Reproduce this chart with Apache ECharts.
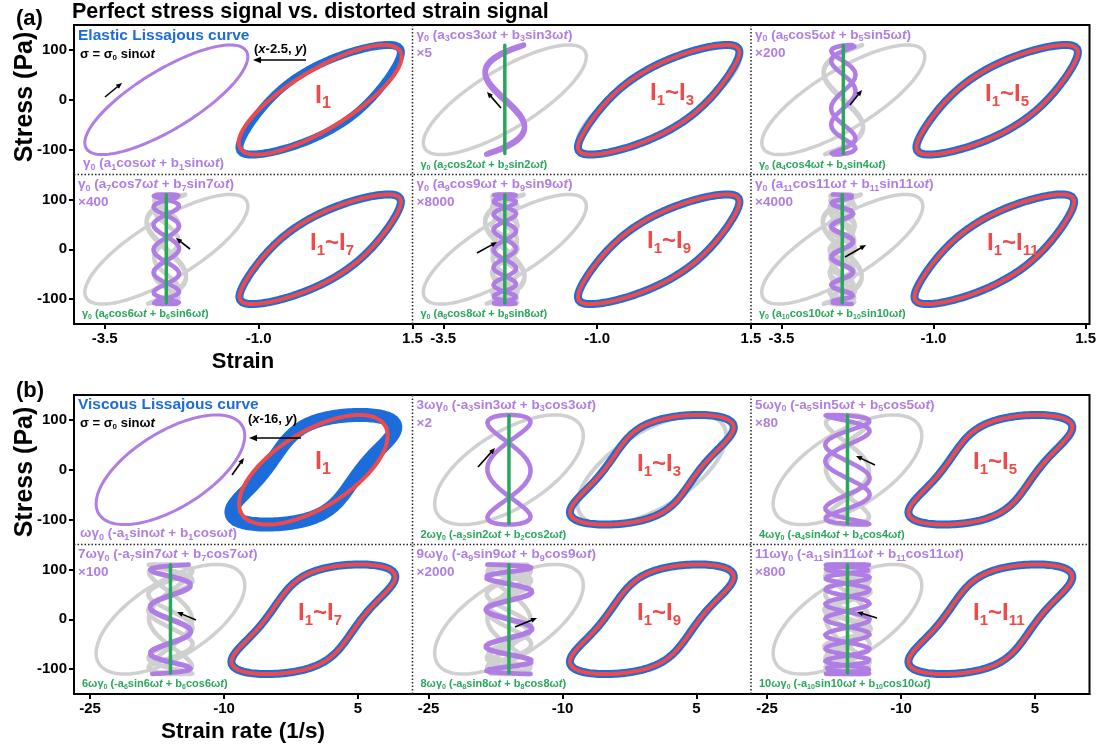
<!DOCTYPE html>
<html>
<head>
<meta charset="utf-8">
<script src="https://cdn.jsdelivr.net/npm/echarts@6/dist/echarts.min.js"></script>
<style>
  html, body { margin: 0; padding: 0; background: #fff; }
  #chart { width: 1099px; height: 749px; }
</style>
</head>
<body>
<div id="chart"></div>
<script>
// Stress amplitude (Pa) and angular frequency (rad/s)
const sigma0 = 110;
const omega = 2 * Math.PI;
// Fourier coefficients of the strain signal for harmonics n = 1..11 (γ0 folded in)
const harmonicA = [-0.82, 0, 0.003, 0, 0.0007, 0, 0.00052, 0, 0.000023, 0, 0.000004];
const harmonicB = [1.04, 0, -0.064, 0, 0.0007, 0, 0.00004, 0, 0.000002, 0, 0.000045];
// Horizontal offsets of the component curves
const strainShift = -2.5;
const rateShift = -16;
// Magnification of the odd component shown in each sub-panel
const strainScale = [1, 5, 200, 400, 8000, 4000];
const rateScale = [1, 2, 80, 100, 2000, 800];
// Axis ranges and ticks
const strainRange = [-4, 1.5];
const rateRange = [-26.8, 11.1];
const stressRange = [-150, 150];
const strainTicks = [-3.5, -1.0, 1.5];
const rateTicks = [-25, -10, 5];
const stressTicks = [-100, 0, 100];

const COLORS = {
  blue: '#1d6cdb', red: '#ef4a4a', purple: '#b07de4',
  green: '#2aa65c', grey: '#d0d0d0', black: '#000'
};
const FAM = '"Liberation Sans", Arial, Helvetica, sans-serif';
const SAMPLES = 900;

function strainAt(t, orders) {
  let s = 0;
  for (const n of orders) s += harmonicA[n - 1] * Math.cos(n * t) + harmonicB[n - 1] * Math.sin(n * t);
  return s;
}
function rateAt(t, orders) {
  let s = 0;
  for (const n of orders) s += n * omega * (-harmonicA[n - 1] * Math.sin(n * t) + harmonicB[n - 1] * Math.cos(n * t));
  return s;
}
function curve(fn, orders, shift, scale) {
  const pts = [];
  for (let i = 0; i <= SAMPLES; i++) {
    const t = 2 * Math.PI * i / SAMPLES;
    pts.push([shift + scale * fn(t, orders), sigma0 * Math.sin(t)]);
  }
  return pts;
}
function range(a, b) { const r = []; for (let i = a; i <= b; i++) r.push(i); return r; }

// ---------- layout ----------
const L = 74, CW = 338.5, RH = 149.5;
const panels = [
  { top: 25, range: strainRange, ticks: strainTicks, fmt: v => v.toFixed(1),
    shift: strainShift, scales: strainScale, fn: strainAt, blueW: [8, 8] },
  { top: 395, range: rateRange, ticks: rateTicks, fmt: v => String(v),
    shift: rateShift, scales: rateScale, fn: rateAt, blueW: [14, 8] }
];

// ---------- rich text helpers ----------
function richText(markup, color, size) {
  const sub = Math.round(size * 0.64);
  const lh = Math.round(size * 1.25);
  const base = { fill: color, color: color, fontWeight: 'bold', fontFamily: FAM };
  const rich = {
    n: Object.assign({ fontSize: size, lineHeight: lh }, base),
    i: Object.assign({ fontSize: size, lineHeight: lh, fontStyle: 'italic' }, base),
    s: Object.assign({ fontSize: sub, lineHeight: sub + 1, verticalAlign: 'bottom' }, base)
  };
  let text = '';
  const re = /\{([^}]*)\}|\[([^\]]*)\]|([^{\[]+)/g;
  let m;
  while ((m = re.exec(markup))) {
    if (m[1] !== undefined) text += '{s|' + m[1] + '}';
    else if (m[2] !== undefined) text += '{i|' + m[2] + '}';
    else text += '{n|' + m[3] + '}';
  }
  return { text, rich };
}
function label(markup, x, y, color, size) {
  const r = richText(markup, color, size);
  return { type: 'text', x, y, z: 100, silent: true,
    style: { text: r.text, rich: r.rich, align: 'left', verticalAlign: 'middle' } };
}
function plainText(text, x, y, size, align, rotation) {
  return { type: 'text', x, y, z: 100, silent: true, rotation: rotation || 0,
    style: { text, fill: '#000', font: 'bold ' + size + 'px ' + FAM, align: align || 'left', verticalAlign: 'middle' } };
}
function arrow(x1, y1, x2, y2, w, head) {
  const ang = Math.atan2(y2 - y1, x2 - x1);
  const hl = head, hw = head * 0.42;
  const bx = x2 - hl * Math.cos(ang), by = y2 - hl * Math.sin(ang);
  const px = -Math.sin(ang) * hw, py = Math.cos(ang) * hw;
  return [
    { type: 'line', z: 100, silent: true, shape: { x1, y1, x2: bx + 0.5 * Math.cos(ang), y2: by + 0.5 * Math.sin(ang) },
      style: { stroke: '#000', lineWidth: w } },
    { type: 'polygon', z: 100, silent: true, shape: { points: [[x2, y2], [bx + px, by + py], [bx - px, by - py]] },
      style: { fill: '#000' } }
  ];
}

// ---------- build option ----------
const option = { animation: false, backgroundColor: '#fff', grid: [], xAxis: [], yAxis: [], series: [], graphic: [] };

function lineSeries(gi, data, color, width, z) {
  return { type: 'line', xAxisIndex: gi, yAxisIndex: gi, data, symbol: 'none', showSymbol: false,
    silent: true, z, clip: true, emphasis: { disabled: true },
    lineStyle: { color, width, join: 'round', cap: 'round' } };
}

const allOrders = range(1, 11);
panels.forEach((p, pi) => {
  for (let k = 0; k < 6; k++) {
    const row = Math.floor(k / 3), col = k % 3;
    const gi = pi * 6 + k;
    option.grid.push({ left: L + col * CW, top: p.top + row * RH, width: CW, height: RH });
    option.xAxis.push({
      gridIndex: gi, type: 'value', min: p.range[0], max: p.range[1], show: row === 1,
      axisLine: { show: true, onZero: false, lineStyle: { color: '#000', width: 2 } },
      axisTick: { show: true, customValues: p.ticks, length: 5, lineStyle: { color: '#000', width: 2 } },
      axisLabel: { show: true, customValues: p.ticks, formatter: p.fmt, color: '#000', fontSize: 15,
        fontWeight: 'bold', fontFamily: FAM, margin: 7 },
      splitLine: { show: false }
    });
    option.yAxis.push({
      gridIndex: gi, type: 'value', min: stressRange[0], max: stressRange[1], show: col === 0,
      axisLine: { show: true, onZero: false, lineStyle: { color: '#000', width: 2 } },
      axisTick: { show: true, customValues: stressTicks, length: 5, lineStyle: { color: '#000', width: 2 } },
      axisLabel: { show: true, customValues: stressTicks, color: '#000', fontSize: 15,
        fontWeight: 'bold', fontFamily: FAM, margin: 7 },
      splitLine: { show: false }
    });

    const n = 2 * k + 1;
    // earlier components, greyed out
    for (let j = 0; j < k; j++) {
      option.series.push(lineSeries(gi, curve(p.fn, [2 * j + 1], p.shift, p.scales[j]), COLORS.grey, j === 0 ? 3.5 : 4.5, 1));
    }
    if (k > 0) {
      option.series.push(lineSeries(gi, curve(p.fn, range(1, n - 2), 0, 1), COLORS.grey, 4, 1));
    }
    // full signal and reconstruction
    option.series.push(lineSeries(gi, curve(p.fn, allOrders, 0, 1), COLORS.blue, k === 0 ? p.blueW[0] : p.blueW[1], 2));
    option.series.push(lineSeries(gi, curve(p.fn, range(1, n), 0, 1), COLORS.red, 4, 3));
    // current odd component and preceding even component
    const pw = k === 0 ? 3 : (pi === 0 && k === 1 ? 5.5 : 4.5);
    option.series.push(lineSeries(gi, curve(p.fn, [n], p.shift, p.scales[k]), COLORS.purple, pw, 4));
    if (k > 0) {
      option.series.push(lineSeries(gi, curve(p.fn, [n - 1], p.shift, 1), COLORS.green, 3.5, 5));
    }
  }
});

// ---------- frames and dividers ----------
const G = option.graphic;
panels.forEach(p => {
  G.push({ type: 'rect', z: 50, silent: true, shape: { x: L, y: p.top, width: 3 * CW, height: 2 * RH },
    style: { fill: 'none', stroke: '#000', lineWidth: 2 } });
  const dash = { stroke: '#222', lineWidth: 1.5, lineDash: [1.5, 2] };
  G.push({ type: 'line', z: 50, silent: true, shape: { x1: L + CW, y1: p.top, x2: L + CW, y2: p.top + 2 * RH }, style: dash });
  G.push({ type: 'line', z: 50, silent: true, shape: { x1: L + 2 * CW, y1: p.top, x2: L + 2 * CW, y2: p.top + 2 * RH }, style: dash });
  G.push({ type: 'line', z: 50, silent: true, shape: { x1: L, y1: p.top + RH, x2: L + 3 * CW, y2: p.top + RH }, style: dash });
});

// ---------- headings and axis titles ----------
G.push(plainText('(a)', 16, 19, 22));
G.push(plainText('(b)', 16, 391, 22));
G.push(plainText('Perfect stress signal vs. distorted strain signal', 72, 12, 21.5));
G.push(plainText('Stress (Pa)', 25, 97, 25, 'center', Math.PI / 2));
G.push(plainText('Stress (Pa)', 25, 472, 25, 'center', Math.PI / 2));
G.push(plainText('Strain', 243, 362, 22, 'center'));
G.push(plainText('Strain rate (1/s)', 243, 732, 22.5, 'center'));

// ---------- sub-panel annotations ----------
const elasticTerm = (n) => {
  const h = n === 1 ? '' : String(n);
  return 'γ{0} (a{' + n + '}cos' + h + 'ω[t] + b{' + n + '}sin' + h + 'ω[t])';
};
const viscousTerm = (n) => {
  const h = n === 1 ? '' : String(n);
  return h + 'ωγ{0} (-a{' + n + '}sin' + h + 'ω[t] + b{' + n + '}cos' + h + 'ω[t])';
};
const bigLabelPos = [
  [[315, 96], [650, 93], [985, 94], [310, 243], [647, 241], [987, 243]],
  [[315, 462], [637, 464], [973, 462], [298, 613], [637, 613], [973, 613]]
];
const smallArrows = [
  [[105, 97, 122, 83], [501, 108, 487, 92], [850, 105, 862, 90], [190, 249, 176, 238], [477, 253, 497, 242], [845, 257, 866, 245]],
  [[232, 475, 244, 458], [478, 467, 495, 448], [875, 465, 856, 456], [196, 620, 177, 612], [515, 627, 537, 618], [877, 618, 857, 612]]
];

panels.forEach((p, pi) => {
  const termFn = pi === 0 ? elasticTerm : viscousTerm;
  for (let k = 0; k < 6; k++) {
    const row = Math.floor(k / 3), col = k % 3;
    const x0 = L + col * CW, y0 = p.top + row * RH;
    const n = 2 * k + 1;
    if (k === 0) {
      G.push(label(termFn(1), x0 + (pi === 0 ? 9 : 6), y0 + RH - 11, COLORS.purple, 13.5));
      G.push(label('I{1}', bigLabelPos[pi][k][0], bigLabelPos[pi][k][1], COLORS.red, 25));
    } else {
      G.push(label(termFn(n), x0 + 4, y0 + 10, COLORS.purple, 13.5));
      G.push(label('×' + p.scales[k], x0 + 4, y0 + 28, COLORS.purple, 13.5));
      G.push(label(termFn(n - 1), x0 + 8, y0 + RH - 10, COLORS.green, 11));
      G.push(label('I{1}~I{' + n + '}', bigLabelPos[pi][k][0], bigLabelPos[pi][k][1], COLORS.red, 24));
    }
    const a = smallArrows[pi][k];
    arrow(a[0], a[1], a[2], a[3], 1.6, 6).forEach(e => G.push(e));
  }
});

G.push(label('Elastic Lissajous curve', 78, 36, COLORS.blue, 15.5));
G.push(label('σ = σ{0} sinω[t]', 80, 54, '#000', 13));
G.push(label('([x]-2.5, [y])', 254, 49, '#000', 13));
arrow(306, 60, 253, 60, 1.6, 8).forEach(e => G.push(e));

G.push(label('Viscous Lissajous curve', 78, 405, COLORS.blue, 15.5));
G.push(label('σ = σ{0} sinω[t]', 80, 423, '#000', 13));
G.push(label('([x]-16, [y])', 248, 419, '#000', 13));
arrow(301, 438, 249, 438, 1.6, 8).forEach(e => G.push(e));

const chart = echarts.init(document.getElementById('chart'), null, { renderer: 'canvas' });
chart.setOption(option);
</script>
</body>
</html>
